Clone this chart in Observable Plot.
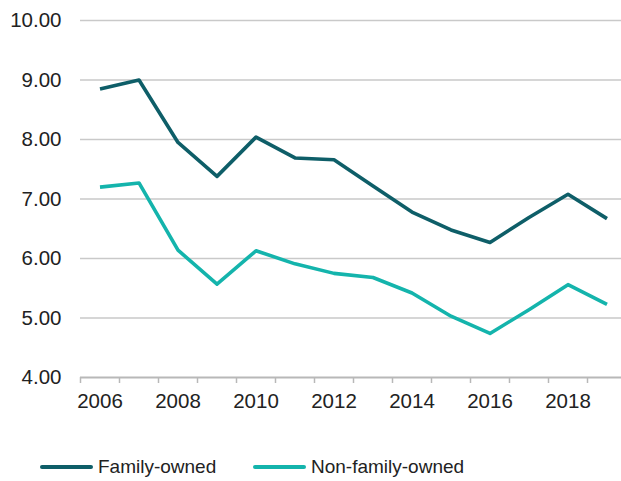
<!DOCTYPE html>
<html>
<head>
<meta charset="utf-8">
<script src="https://cdn.jsdelivr.net/npm/d3@7"></script>
<script src="https://cdn.jsdelivr.net/npm/@observablehq/plot@0.6"></script>
<style>
  html, body { margin: 0; padding: 0; background: #fff; }
  body { width: 621px; height: 481px; overflow: hidden; font-family: "Liberation Sans", Arial, sans-serif; }
  #legend { position: relative; height: 51px; }
  .item { position: absolute; top: 27px; display: flex; align-items: center; font-size: 19px; color: #222; line-height: 1; }
  .sw { display: inline-block; width: 53px; height: 4px; margin-right: 5px; border-radius: 2px; }
</style>
</head>
<body>
<div id="chart"></div>
<div id="legend"></div>
<script>
const years = [2006, 2007, 2008, 2009, 2010, 2011, 2012, 2013, 2014, 2015, 2016, 2017, 2018, 2019];
const seriesNames = ["Family-owned", "Non-family-owned"];
const familyOwned = [8.85, 9.00, 7.95, 7.38, 8.04, 7.69, 7.66, 7.22, 6.78, 6.48, 6.27, 6.69, 7.08, 6.67];
const nonFamilyOwned = [7.20, 7.27, 6.14, 5.57, 6.13, 5.91, 5.75, 5.68, 5.42, 5.03, 4.74, 5.14, 5.56, 5.23];
const yTicks = [4, 5, 6, 7, 8, 9, 10];
const xLabelTicks = [2006, 2008, 2010, 2012, 2014, 2016, 2018];
const colors = ["#0e5e68", "#14b4ac"];

const data = [];
years.forEach((yr, i) => {
  data.push({year: yr, value: familyOwned[i], series: seriesNames[0]});
  data.push({year: yr, value: nonFamilyOwned[i], series: seriesNames[1]});
});
const tickBounds = years.map(y => y - 0.5);

const chart = Plot.plot({
  width: 621,
  height: 430,
  marginTop: 20,
  marginBottom: 53,
  marginLeft: 80,
  marginRight: 0,
  style: {fontFamily: '"Liberation Sans", Arial, sans-serif', fontSize: "20.5px", color: "#222", background: "#fff"},
  x: {type: "linear", domain: [2005.5, 2019.5], range: [80, 626]},
  y: {domain: [4, 10]},
  color: {domain: seriesNames, range: colors},
  marks: [
    Plot.ruleY(yTicks.filter(d => d > 4), {stroke: "#c9c9c9", strokeWidth: 1.3}),
    Plot.axisY({ticks: yTicks, tickSize: 0, tickPadding: 19, tickFormat: d => d.toFixed(2), label: null, fill: "#222"}),
    Plot.axisX({ticks: tickBounds, tickSize: 6, tickFormat: () => "", label: null, stroke: "#b8b8b8", strokeWidth: 1.5}),
    Plot.axisX({ticks: xLabelTicks, tickSize: 0, tickPadding: 16, tickFormat: d => String(d), label: null, fill: "#222"}),
    Plot.ruleY([4], {stroke: "#b8b8b8", strokeWidth: 1.8}),
    Plot.line(data, {x: "year", y: "value", z: "series", stroke: "series", strokeWidth: 3.6, strokeLinejoin: "round", strokeLinecap: "butt"})
  ]
});
document.getElementById("chart").appendChild(chart);

const legend = document.getElementById("legend");
const lefts = [40, 253];
seriesNames.forEach((name, i) => {
  const it = document.createElement("div");
  it.className = "item";
  it.style.left = lefts[i] + "px";
  const sw = document.createElement("span");
  sw.className = "sw";
  sw.style.background = colors[i];
  it.appendChild(sw);
  it.appendChild(document.createTextNode(name));
  legend.appendChild(it);
});
</script>
</body>
</html>
